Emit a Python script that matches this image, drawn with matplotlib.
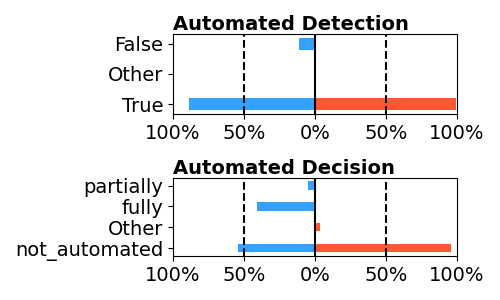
import numpy as np
import matplotlib
matplotlib.use('Agg')
import matplotlib.pyplot as plt
from matplotlib.ticker import FuncFormatter

# Automated Detection
det_labels = ['True', 'Other', 'False']
det_neg = [89, 0, 11]
det_pos = [99, 0, 0]

# Automated Decision
dec_labels = ['not_automated', 'Other', 'fully', 'partially']
dec_neg = [54, 0, 41, 5]
dec_pos = [96, 3.5, 0, 0]

titles = ['Automated Detection', 'Automated Decision']
blue = '#33A1FD'
red = '#FF5733'


def draw(ax, labels, neg, pos, title):
    y = np.arange(len(labels))
    ax.barh(y, -np.array(neg), height=0.4, color=blue)
    ax.barh(y, pos, height=0.4, color=red)
    ax.axvline(0, color='black', lw=1.5)
    ax.axvline(-50, color='black', lw=1.5, ls='--')
    ax.axvline(50, color='black', lw=1.5, ls='--')
    ax.set_xlim(-100, 100)
    ax.set_xticks([-100, -50, 0, 50, 100])
    ax.xaxis.set_major_formatter(FuncFormatter(lambda v, p: '%d%%' % abs(v)))
    ax.set_yticks(y)
    ax.set_yticklabels(labels)
    ax.tick_params(labelsize=14)
    ax.set_title(title, loc='left', fontsize=14, fontweight='bold', pad=2)


fig = plt.figure(figsize=(5, 3), dpi=100)
ax1 = fig.add_axes([0.346, 0.62, 0.568, 0.267])
ax2 = fig.add_axes([0.346, 0.147, 0.568, 0.26])
draw(ax1, det_labels, det_neg, det_pos, titles[0])
draw(ax2, dec_labels, dec_neg, dec_pos, titles[1])

fig.savefig('out.png', dpi=100)
